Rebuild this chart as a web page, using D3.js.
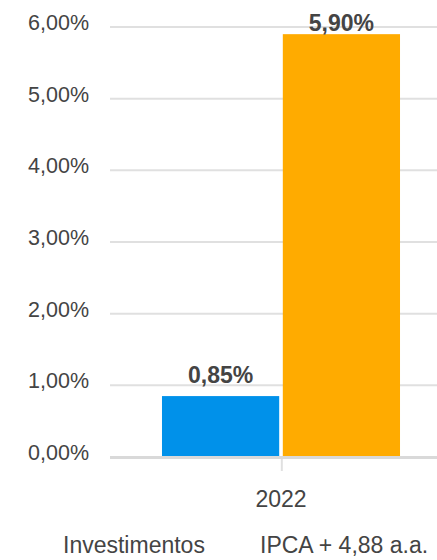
<!DOCTYPE html>
<html>
<head>
<meta charset="utf-8">
<script src="https://cdn.jsdelivr.net/npm/d3@7"></script>
<style>
  body { margin: 0; background: #fff; }
  text { font-family: "Liberation Sans", Arial, sans-serif; }
</style>
</head>
<body>
<div id="chart"></div>
<script>
// chart data
var years = ["2022"];
var seriesNames = ["Investimentos", "IPCA + 4,88 a.a."];
var seriesValues = [0.85, 5.90];
var seriesColors = ["#0091EA", "#FFAB00"];
var yTicks = [0, 1, 2, 3, 4, 5, 6];

var width = 437, height = 560;
var fmt = function (v) { return v.toFixed(2).replace(".", ",") + "%"; };

var svg = d3.select("#chart").append("svg")
  .attr("width", width)
  .attr("height", height);

var y = d3.scaleLinear().domain([0, 6]).range([457, 27]);
var x0 = d3.scaleBand().domain(years).range([110, 452]);
var bw = x0.bandwidth();
var x1 = d3.scaleBand().domain(seriesNames)
  .range([bw * 0.152, bw * 0.848])
  .paddingInner(0.03);

// gridlines
svg.append("g").selectAll("line")
  .data(yTicks.filter(function (d) { return d > 0; }))
  .enter().append("line")
  .attr("x1", 110).attr("x2", width)
  .attr("y1", function (d) { return y(d); })
  .attr("y2", function (d) { return y(d); })
  .attr("stroke", "#e0e0e0")
  .attr("stroke-width", 2);

// y tick labels
svg.append("g").selectAll("text")
  .data(yTicks)
  .enter().append("text")
  .attr("x", 89)
  .attr("y", function (d) { return y(d) + 3; })
  .attr("text-anchor", "end")
  .attr("fill", "#444")
  .style("font-size", "21.5px")
  .text(fmt);

// bars
var group = svg.append("g").selectAll("g")
  .data(years)
  .enter().append("g")
  .attr("transform", function (d) { return "translate(" + x0(d) + ",0)"; });

group.selectAll("rect")
  .data(seriesNames.map(function (n, i) { return { name: n, value: seriesValues[i], color: seriesColors[i] }; }))
  .enter().append("rect")
  .attr("x", function (d) { return x1(d.name); })
  .attr("y", function (d) { return y(d.value); })
  .attr("width", x1.bandwidth())
  .attr("height", function (d) { return y(0) - y(d.value); })
  .attr("fill", function (d) { return d.color; });

group.selectAll("text.val")
  .data(seriesNames.map(function (n, i) { return { name: n, value: seriesValues[i] }; }))
  .enter().append("text")
  .attr("class", "val")
  .attr("x", function (d) { return x1(d.name) + x1.bandwidth() / 2; })
  .attr("y", function (d) { return Math.max(y(d.value) - 13, 31); })
  .attr("text-anchor", "middle")
  .attr("fill", "#444")
  .style("font-size", "23px")
  .style("font-weight", "bold")
  .text(function (d) { return fmt(d.value); });

// zero axis line and category tick
svg.append("line")
  .attr("x1", 110).attr("x2", width)
  .attr("y1", y(0) + 0.5).attr("y2", y(0) + 0.5)
  .attr("stroke", "#d9d9d9")
  .attr("stroke-width", 3);

svg.append("g").selectAll("line")
  .data(years)
  .enter().append("line")
  .attr("x1", function (d) { return x0(d) + x1("IPCA + 4,88 a.a.") - 1; })
  .attr("x2", function (d) { return x0(d) + x1("IPCA + 4,88 a.a.") - 1; })
  .attr("y1", y(0) + 2).attr("y2", y(0) + 14)
  .attr("stroke", "#e0e0e0")
  .attr("stroke-width", 2);

svg.append("g").selectAll("text")
  .data(years)
  .enter().append("text")
  .attr("x", function (d) { return x0(d) + bw / 2; })
  .attr("y", 507)
  .attr("text-anchor", "middle")
  .attr("fill", "#444")
  .style("font-size", "23px")
  .text(function (d) { return d; });

// legend (text only)
var legendX = [63, 260];
svg.append("g").selectAll("text")
  .data(seriesNames)
  .enter().append("text")
  .attr("x", function (d, i) { return legendX[i]; })
  .attr("y", 553)
  .attr("fill", "#444")
  .style("font-size", "23px")
  .text(function (d) { return d; });
</script>
</body>
</html>
